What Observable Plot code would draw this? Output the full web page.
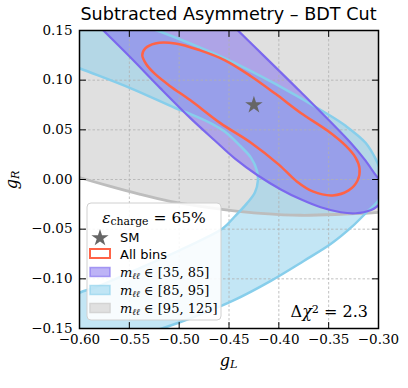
<!DOCTYPE html>
<html><head><meta charset="utf-8">
<script src="https://cdn.jsdelivr.net/npm/d3@7"></script>
<script src="https://cdn.jsdelivr.net/npm/@observablehq/plot@0.6"></script>
<style>body{margin:0;background:#fff}#chart{position:relative;width:408px;height:388px}</style>
</head><body><div id="chart"></div>
<script>
// ---- data (in (gL, gR) units) ----
const xTicks = [-0.60, -0.55, -0.50, -0.45, -0.40, -0.35, -0.30];
const yTicks = [-0.15, -0.10, -0.05, 0.00, 0.05, 0.10, 0.15];
const smGL = [-0.425];
const smGR = [0.075];

// All bins (red contour)
const allGL = [-0.537,-0.534,-0.524,-0.504,-0.479,-0.454,-0.428,-0.403,-0.378,-0.351,-0.333,-0.323,-0.319,-0.321,-0.330,-0.346,-0.366,-0.382,-0.400,-0.428,-0.459,-0.489,-0.509,-0.524,-0.533];
const allGR = [0.125,0.132,0.137,0.137,0.130,0.120,0.104,0.086,0.067,0.049,0.034,0.022,0.011,-0.001,-0.011,-0.016,-0.012,-0.002,0.015,0.037,0.057,0.080,0.094,0.106,0.116];

// m_ll in [35,85] (purple)
const lowGL = [-0.639,-0.606,-0.576,-0.549,-0.519,-0.489,-0.464,-0.444,-0.421,-0.398,-0.378,-0.358,-0.338,-0.323,-0.308,-0.300,-0.293,-0.291,-0.300,-0.313,-0.328,-0.378,-0.441,-0.471,-0.504];
const lowGR = [0.215,0.180,0.150,0.123,0.092,0.062,0.039,0.021,0.004,-0.010,-0.020,-0.028,-0.033,-0.034,-0.031,-0.026,-0.016,-0.006,0.001,0.019,0.037,0.088,0.150,0.180,0.215];

// m_ll in [85,95] (light blue)
const zGL = [-0.649,-0.579,-0.522,-0.489,-0.454,-0.403,-0.353,-0.333,-0.313,-0.303,-0.298,-0.294,-0.300,-0.312,-0.326,-0.348,-0.375,-0.408,-0.446,-0.474,-0.500,-0.523,-0.559,-0.619,-0.639,-0.600,-0.585,-0.539,-0.499,-0.474,-0.456,-0.444,-0.432,-0.424,-0.421,-0.422,-0.428,-0.439,-0.454,-0.469,-0.489,-0.504,-0.549,-0.600,-0.679];
const zGR = [0.198,0.171,0.150,0.137,0.122,0.096,0.067,0.054,0.037,0.021,0.009,-0.006,-0.021,-0.033,-0.047,-0.065,-0.082,-0.102,-0.122,-0.134,-0.144,-0.152,-0.167,-0.157,-0.134,-0.114,-0.109,-0.089,-0.071,-0.059,-0.049,-0.037,-0.024,-0.013,-0.001,0.009,0.022,0.034,0.048,0.057,0.066,0.072,0.092,0.112,0.143];

// m_ll in [95,125] (gray): lower boundary, closed above the plot
const highGL = [-0.619,-0.600,-0.569,-0.539,-0.509,-0.479,-0.449,-0.418,-0.378,-0.338,-0.300,-0.278];
const highGR = [0.008,0.002,-0.007,-0.015,-0.022,-0.027,-0.031,-0.034,-0.036,-0.035,-0.033,-0.030];
const highTopGL = [-0.278,-0.619];
const highTopGR = [0.180,0.180];

// ---- build ----
const rows = (xs, ys) => xs.map((x, i) => ({gL: x, gR: ys[i]}));
const red = rows(allGL, allGR);
const low = rows(lowGL, lowGR);
const zpk = rows(zGL, zGR);
const highLine = rows(highGL, highGR);
const highFill = highLine.concat(rows(highTopGL, highTopGR));
const sm = rows(smGL, smGR);
const fmt = d3.format(".2f");
const tickShape = {draw(ctx, l) { ctx.moveTo(0, 0); ctx.lineTo(0, -l); }};
const tk = {shape: tickShape, anchor: "start", length: 6, stroke: "black", strokeWidth: 1};

const C = {purple: "#7b68ee", blue: "#87ceeb", gray: "#bdbdbd", red: "#ff6347"};

const plot = Plot.plot({
  width: 408, height: 388,
  marginLeft: 79, marginRight: 30, marginTop: 30, marginBottom: 60,
  style: {fontFamily: "DejaVu Serif", fontSize: "13.5px", background: "white", color: "black"},
  x: {domain: [-0.60, -0.30]},
  y: {domain: [-0.15, 0.15]},
  marks: [
    Plot.line(highFill, {x: "gL", y: "gR", curve: "catmull-rom-closed", fill: "#e0e0e0", stroke: "none", clip: true}),
    Plot.line(zpk, {x: "gL", y: "gR", curve: "catmull-rom-closed", fill: C.blue, fillOpacity: 0.5, stroke: "none", clip: true}),
    Plot.line(low, {x: "gL", y: "gR", curve: "catmull-rom-closed", fill: C.purple, fillOpacity: 0.5, stroke: "none", clip: true}),
    Plot.gridX({ticks: xTicks, stroke: "#b0b0b0", strokeOpacity: 1, strokeWidth: 0.8, strokeDasharray: "2.5,2"}),
    Plot.gridY({ticks: yTicks, stroke: "#b0b0b0", strokeOpacity: 1, strokeWidth: 0.8, strokeDasharray: "2.5,2"}),
    Plot.line(highLine, {x: "gL", y: "gR", curve: "catmull-rom", stroke: C.gray, strokeWidth: 2.8, clip: true}),
    Plot.line(zpk, {x: "gL", y: "gR", curve: "catmull-rom-closed", stroke: C.blue, strokeWidth: 2.5, clip: true}),
    Plot.line(low, {x: "gL", y: "gR", curve: "catmull-rom-closed", stroke: C.purple, strokeWidth: 2.2, clip: true}),
    Plot.line(red, {x: "gL", y: "gR", curve: "catmull-rom-closed", stroke: C.red, strokeWidth: 2.5, clip: true}),
    Plot.dot(sm, {x: "gL", y: "gR", symbol: "star", r: 5.5, fill: "#666666", stroke: "none"}),
    Plot.frame({stroke: "black", strokeWidth: 1.5}),
    Plot.axisX({ticks: xTicks, tickFormat: fmt, tickSize: 0, tickPadding: 6, label: null}),
    Plot.axisY({ticks: yTicks, tickFormat: fmt, tickSize: 0, tickPadding: 7, label: null}),
    Plot.vector(xTicks, {x: d => d, frameAnchor: "bottom", rotate: 0, ...tk}),
    Plot.vector(xTicks, {x: d => d, frameAnchor: "top", rotate: 180, ...tk}),
    Plot.vector(yTicks, {y: d => d, frameAnchor: "left", rotate: 90, ...tk}),
    Plot.vector(yTicks, {y: d => d, frameAnchor: "right", rotate: -90, ...tk})
  ]
});
document.getElementById("chart").appendChild(plot);

// ---- annotations: title, axis labels, legend ----
const svg = d3.select(plot);
const serif = "DejaVu Serif", sans = "DejaVu Sans";

svg.append("text").attr("x", 228.5).attr("y", 20).attr("text-anchor", "middle")
  .attr("font-family", sans).attr("font-size", 17.6).attr("fill", "black")
  .text("Subtracted Asymmetry – BDT Cut");

function mathText(g, parts, size) {
  const t = g.append("text").attr("font-family", serif).attr("font-size", size).attr("fill", "black")
    .attr("text-anchor", "start");
  parts.forEach(p => {
    const s = t.append("tspan").text(p.t);
    if (p.i) s.attr("font-style", "italic");
    if (p.sub) s.attr("font-size", size * 0.7).attr("baseline-shift", p.sub === "up" ? "38%" : "-22%");
  });
  return t;
}

mathText(svg, [{t: "g", i: 1}, {t: "L", i: 1, sub: 1}], 16)
  .attr("x", 228.5).attr("y", 366).attr("text-anchor", "middle");
mathText(svg, [{t: "g", i: 1}, {t: "R", i: 1, sub: 1}], 16)
  .attr("text-anchor", "middle").attr("transform", "translate(17,180) rotate(-90)");
mathText(svg, [{t: "Δ"}, {t: "χ", i: 1}, {t: "2", sub: "up"}, {t: " = 2.3"}], 16)
  .attr("x", 368).attr("y", 317).attr("text-anchor", "end");

const lg = svg.append("g").attr("text-anchor", "start");
lg.append("rect").attr("x", 87).attr("y", 203).attr("width", 134).attr("height", 117).attr("rx", 4)
  .attr("fill", "white").attr("fill-opacity", 0.88).attr("stroke", "#d0d0d0");
mathText(lg, [{t: "ε", i: 1}, {t: "charge", sub: 1}, {t: " = 65%"}], 15.5)
  .attr("x", 154).attr("y", 223).attr("text-anchor", "middle");
lg.append("path").attr("d", d3.symbol(d3.symbolStar, 92)()).attr("transform", "translate(100,238)").attr("fill", "#666666");
lg.append("text").attr("x", 120).attr("y", 242).attr("text-anchor", "start").attr("font-family", sans).attr("font-size", 13).text("SM");
lg.append("rect").attr("x", 90).attr("y", 249).attr("width", 20).attr("height", 9).attr("fill", "white").attr("stroke", C.red).attr("stroke-width", 2);
lg.append("text").attr("x", 120).attr("y", 259).attr("text-anchor", "start").attr("font-family", sans).attr("font-size", 13).text("All bins");
const patches = [
  {y: 272, fill: "rgba(123,104,238,0.5)", stroke: "rgba(123,104,238,0.6)", lab: "[35, 85]"},
  {y: 290, fill: "rgba(135,206,235,0.5)", stroke: "rgba(135,206,235,0.6)", lab: "[85, 95]"},
  {y: 308, fill: "#e0e0e0", stroke: "#d4d4d4", lab: "[95, 125]"}
];
patches.forEach(p => {
  lg.append("rect").attr("x", 90).attr("y", p.y - 4.5).attr("width", 20).attr("height", 9)
    .attr("fill", p.fill).attr("stroke", p.stroke).attr("stroke-width", 1.5);
  mathText(lg, [{t: "m", i: 1}, {t: "ℓℓ", i: 1, sub: 1}, {t: " ∈ " + p.lab}], 13)
    .attr("x", 120).attr("y", p.y + 5);
});
</script>
</body></html>
